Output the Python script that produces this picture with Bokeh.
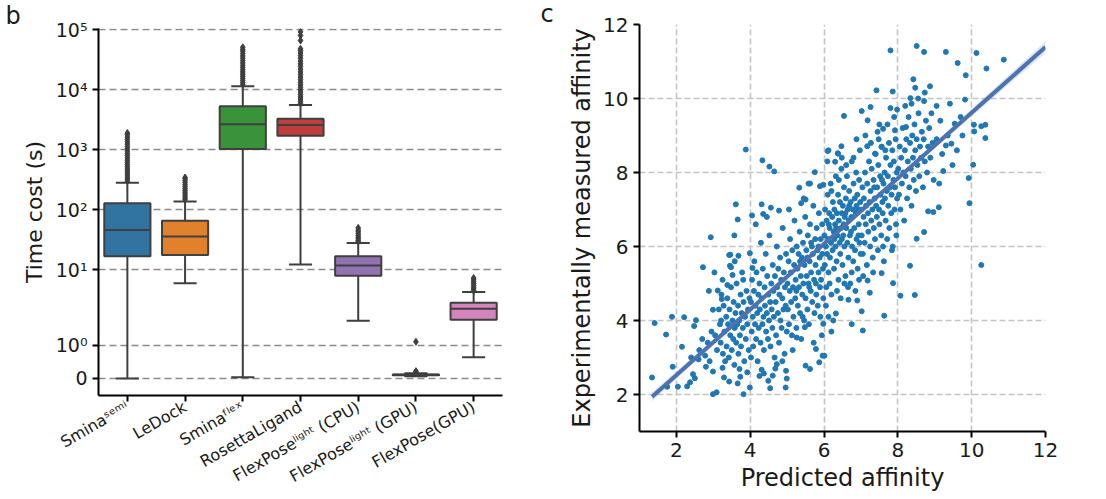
import numpy as np
from bokeh.plotting import figure
from bokeh.models import Range1d, FixedTicker, Title
from bokeh.embed import file_html
from bokeh.resources import INLINE
from bokeh.core.templates import get_env

FONT = "DejaVu Sans"
TXT = "#1a1a1a"
EDGE = "#3f3f3f"

# ---------------- panel b data (time cost, seconds) ----------------
methods = ["Sminaˢᵉᵐⁱ", "LeDock", "Sminaᶠˡᵉˣ", "RosettaLigand",
           "FlexPoseˡⁱᵍʰᵗ (CPU)", "FlexPoseˡⁱᵍʰᵗ (GPU)", "FlexPose(GPU)"]
box_colors = ["#3274a1", "#e1812c", "#3a923a", "#c03d3e", "#9372b2", "#845b53", "#d684bd"]
q1 = [16.9, 17.6, 1030, 1716, 7.96, 0.10, 1.76]
med = [45.9, 36.0, 2650, 2580, 11.8, 0.11, 2.24]
q3 = [128, 65.8, 5290, 3296, 16.9, 0.12, 2.83]
whis_lo = [0.0, 6.0, 0.04, 12.3, 1.73, 0.07, 0.64]
whis_hi = [282, 138, 11400, 5560, 27.9, 0.16, 4.26]

out_smina_semi = [300, 325, 350, 380, 410, 445, 480, 520, 565, 615, 670, 730, 800,
                  870, 950, 1040, 1130, 1240, 1350, 1480, 1620, 1780, 1900]
out_ledock = [148, 158, 170, 183, 197, 212, 228, 246, 265, 285, 308, 330, 345]
out_smina_flex = [12200, 13200, 14300, 15500, 16800, 18200, 19800, 21500, 23500, 25500,
                  28000, 30500, 33500, 36500, 40000, 44000, 47000, 51000]
out_rosetta = [5900, 6400, 7000, 7600, 8300, 9100, 10000, 11000, 12100, 13300, 14700,
               16200, 17900, 19800, 22000, 24500, 27000, 30000, 33500, 37000, 41000,
               45000, 48000, 66000, 80000, 92000]
out_flex_cpu = [29.5, 31, 33, 35, 37.5, 40, 43, 46, 50]
out_flex_gpu_light = [0.18, 0.20, 0.22, 1.1]
out_flex_gpu = [4.5, 4.8, 5.1, 5.5, 5.9, 6.3, 6.8, 7.3]
outliers = [out_smina_semi, out_ledock, out_smina_flex, out_rosetta,
            out_flex_cpu, out_flex_gpu_light, out_flex_gpu]

y_tick_values = [0, 1, 10, 100, 1000, 10000, 100000]
y_tick_labels = ["0", "10⁰", "10¹", "10²", "10³", "10⁴", "10⁵"]

# ---------------- panel c data (affinity scatter) ----------------
pred_a = [1.34, 1.41, 1.72, 1.88, 2.21, 1.90, 2.15, 1.75, 2.04, 2.29,
          2.37, 2.48, 2.53, 2.50, 2.72, 2.70, 2.99, 2.99, 2.99, 2.93,
          2.45, 2.60, 2.78, 2.85, 2.90, 2.62, 2.40, 2.88, 2.95, 2.80]
meas_a = [2.46, 3.93, 3.62, 4.10, 4.09, 2.75, 3.29, 2.21, 2.21, 2.22,
          2.33, 3.85, 4.01, 2.44, 5.44, 3.50, 4.29, 2.62, 2.01, 6.25,
          2.55, 2.95, 3.05, 3.40, 2.90, 3.20, 3.00, 4.80, 3.70, 2.75]

pred_b = [3.03, 3.09, 3.12, 3.23, 3.21, 3.25, 3.29, 3.43, 3.45, 3.52,
          3.46, 3.68, 3.82, 3.99, 3.71, 3.73, 3.61, 3.66, 3.57, 3.88,
          3.43, 3.48, 3.38, 3.81, 3.99,
          3.05, 3.10, 3.15, 3.18, 3.20, 3.22, 3.26, 3.28, 3.30, 3.32,
          3.35, 3.36, 3.38, 3.40, 3.42, 3.44, 3.46, 3.48, 3.50, 3.52,
          3.54, 3.55, 3.57, 3.58, 3.60, 3.62, 3.63, 3.65, 3.67, 3.68,
          3.70, 3.72, 3.74, 3.75, 3.77, 3.78, 3.80, 3.82, 3.84, 3.86,
          3.88, 3.90, 3.92, 3.94, 3.96, 3.98, 3.58, 3.25, 3.66, 3.92]
meas_b = [5.30, 2.06, 4.81, 4.58, 4.00, 2.72, 2.46, 2.35, 5.48, 5.23,
          5.78, 5.75, 2.01, 2.19, 2.69, 2.48, 7.14, 6.73, 6.30, 8.62,
          5.77, 5.44, 4.96, 5.10, 5.82,
          3.6, 3.2, 4.3, 3.9, 3.4, 4.7, 3.1, 4.4, 3.7, 2.9,
          4.1, 3.3, 4.6, 3.9, 3.0, 4.3, 3.6, 4.9, 3.2, 4.0,
          3.5, 4.5, 2.8, 3.8, 4.2, 3.4, 5.0, 3.9, 4.4, 3.1,
          4.0, 3.6, 4.7, 3.3, 4.2, 5.3, 3.8, 4.5, 2.9, 4.1,
          3.5, 4.8, 3.9, 4.3, 3.2, 4.6, 5.6, 5.1, 2.3, 2.6]

pred_c = [4.05, 4.06, 4.02, 4.31, 4.37, 4.49, 4.54, 4.61, 4.72, 4.96,
          4.97, 4.99, 4.33, 4.52, 4.65, 4.31, 4.78, 4.35, 4.56,
          4.02, 4.04, 4.05, 4.07, 4.08, 4.10, 4.11, 4.13, 4.14, 4.16,
          4.17, 4.19, 4.20, 4.22, 4.23, 4.25, 4.26, 4.28, 4.29, 4.31,
          4.33, 4.34, 4.36, 4.37, 4.39, 4.40, 4.42, 4.43, 4.45, 4.46,
          4.48, 4.49, 4.51, 4.52, 4.54, 4.55, 4.57, 4.58, 4.60, 4.61,
          4.63, 4.64, 4.66, 4.67, 4.69, 4.70, 4.72, 4.73, 4.75, 4.76,
          4.78, 4.79, 4.81, 4.82, 4.84, 4.85, 4.87, 4.88, 4.90, 4.91,
          4.93, 4.94, 4.96, 4.97, 4.99, 4.15, 4.45, 4.68, 4.87, 4.25]
meas_c = [6.84, 5.42, 3.00, 2.67, 2.57, 2.37, 2.17, 2.51, 2.82, 2.19,
          2.64, 2.43, 8.33, 8.16, 8.03, 7.14, 6.97, 6.88, 7.05,
          4.5, 3.7, 5.1, 4.1, 3.3, 4.8, 5.6, 3.9, 4.4, 3.5,
          5.3, 4.2, 2.9, 4.7, 3.8, 5.0, 4.3, 3.4, 6.1, 4.6,
          3.9, 5.4, 4.1, 3.2, 4.9, 4.4, 5.8, 3.7, 4.2, 5.2,
          3.5, 4.7, 4.0, 6.3, 4.5, 3.3, 5.0, 4.3, 3.8, 5.5,
          4.8, 4.1, 3.0, 5.2, 4.5, 3.6, 6.0, 4.9, 4.2, 5.4,
          3.4, 4.7, 5.7, 4.0, 5.1, 3.8, 4.6, 6.5, 4.3, 5.3,
          3.1, 4.9, 4.4, 5.8, 3.7, 6.6, 6.8, 2.7, 2.9, 2.5]

pred_d = [5.33, 5.50, 5.62, 5.98, 5.75, 5.26, 5.48, 5.50, 5.62, 5.78,
          5.87, 5.58, 5.38, 5.89, 5.96, 5.98,
          5.01, 5.02, 5.04, 5.05, 5.07, 5.08, 5.10, 5.11, 5.13, 5.14,
          5.16, 5.17, 5.19, 5.20, 5.22, 5.23, 5.25, 5.26, 5.28, 5.29,
          5.31, 5.32, 5.34, 5.35, 5.37, 5.38, 5.40, 5.41, 5.43, 5.44,
          5.46, 5.47, 5.49, 5.50, 5.52, 5.53, 5.55, 5.56, 5.58, 5.59,
          5.61, 5.62, 5.64, 5.65, 5.67, 5.68, 5.70, 5.71, 5.73, 5.74,
          5.76, 5.77, 5.79, 5.80, 5.82, 5.83, 5.85, 5.86, 5.88, 5.89,
          5.91, 5.92, 5.94, 5.95, 5.97, 5.98, 5.05, 5.45, 5.15, 5.72,
          5.35, 5.55, 5.65, 5.85, 5.95, 5.25, 5.42, 5.60, 5.78, 5.90]
meas_d = [7.59, 7.27, 7.70, 7.67, 8.01, 3.54, 3.82, 2.78, 2.69, 3.23,
          2.87, 7.70, 7.17, 7.63, 3.05, 3.91,
          5.0, 4.3, 5.6, 3.9, 4.8, 6.2, 5.3, 4.5, 3.6, 5.9,
          4.9, 4.1, 5.5, 6.7, 4.6, 5.1, 3.8, 6.0, 5.4, 4.4,
          5.8, 4.9, 6.4, 4.2, 5.2, 3.5, 5.7, 4.7, 6.1, 5.0,
          4.0, 5.5, 6.8, 4.6, 5.9, 5.2, 4.3, 6.3, 5.0, 3.9,
          5.6, 6.6, 4.8, 5.3, 6.0, 4.5, 5.8, 7.1, 5.1, 4.2,
          6.2, 5.5, 4.7, 6.5, 5.9, 4.4, 5.3, 6.9, 5.7, 4.9,
          6.2, 5.1, 3.6, 6.6, 5.4, 4.6, 7.0, 7.3, 3.2, 3.4,
          5.6, 5.7, 6.1, 6.0, 5.8, 4.8, 4.1, 4.9, 5.0, 4.1]

pred_e = [6.12, 6.37, 6.10, 6.47, 6.38, 6.30, 6.88, 6.54, 6.66, 6.32,
          6.12, 6.01, 6.90, 6.48, 6.09, 6.20, 6.75,
          6.01, 6.02, 6.03, 6.05, 6.06, 6.07, 6.08, 6.10, 6.11, 6.12,
          6.14, 6.15, 6.16, 6.18, 6.19, 6.20, 6.22, 6.23, 6.24, 6.26,
          6.27, 6.28, 6.30, 6.31, 6.32, 6.34, 6.35, 6.36, 6.38, 6.39,
          6.40, 6.42, 6.43, 6.44, 6.46, 6.47, 6.48, 6.50, 6.51, 6.52,
          6.54, 6.55, 6.56, 6.58, 6.59, 6.60, 6.62, 6.63, 6.64, 6.66,
          6.67, 6.68, 6.70, 6.71, 6.72, 6.74, 6.75, 6.76, 6.78, 6.79,
          6.80, 6.82, 6.83, 6.84, 6.86, 6.87, 6.88, 6.90, 6.91, 6.92,
          6.94, 6.95, 6.96, 6.98, 6.99, 6.05, 6.25, 6.45, 6.65, 6.85,
          6.15, 6.35, 6.55, 6.75, 6.95, 6.20, 6.40, 6.60, 6.80, 6.97,
          6.13, 6.33, 6.53, 6.73, 6.93, 6.28, 6.48, 6.68, 6.88, 6.58]
meas_e = [8.60, 8.52, 8.58, 8.71, 8.51, 8.29, 8.90, 9.53, 4.56, 4.19,
          4.10, 3.05, 4.54, 8.40, 8.30, 3.70, 3.90,
          6.3, 5.5, 7.0, 6.0, 4.9, 6.7, 5.8, 7.4, 6.2, 5.3,
          6.9, 6.5, 5.7, 7.7, 6.1, 4.7, 6.8, 5.9, 7.2, 6.4,
          5.4, 7.0, 6.6, 6.0, 7.9, 5.6, 6.9, 6.3, 7.4, 5.1,
          6.7, 6.1, 7.2, 5.8, 6.5, 8.1, 6.9, 5.5, 7.1, 6.3,
          7.6, 6.0, 6.8, 5.2, 7.3, 6.5, 7.9, 6.1, 7.0, 5.7,
          6.7, 7.5, 6.3, 5.0, 7.2, 6.8, 8.3, 6.0, 7.0, 5.6,
          7.7, 6.5, 7.3, 5.9, 6.9, 8.0, 6.2, 7.4, 5.4, 7.0,
          6.6, 7.8, 6.1, 7.2, 5.8, 4.4, 4.0, 4.6, 4.9, 4.8,
          5.0, 4.8, 5.0, 5.3, 5.1, 7.5, 7.8, 8.2, 8.4, 8.6,
          6.6, 6.5, 6.6, 6.4, 6.3, 6.2, 6.2, 7.1, 7.1, 6.9]

pred_f = [7.24, 7.18, 7.05, 7.02, 7.56, 7.87, 7.63, 7.17, 7.38, 7.56,
          7.92, 7.80, 7.42, 7.86, 7.80, 7.98, 7.26, 7.02, 7.18, 7.50,
          7.60,
          7.01, 7.02, 7.04, 7.05, 7.07, 7.08, 7.10, 7.11, 7.13, 7.14,
          7.16, 7.17, 7.19, 7.20, 7.22, 7.23, 7.25, 7.26, 7.28, 7.29,
          7.31, 7.32, 7.34, 7.35, 7.37, 7.38, 7.40, 7.41, 7.43, 7.44,
          7.46, 7.47, 7.49, 7.50, 7.52, 7.53, 7.55, 7.56, 7.58, 7.59,
          7.61, 7.62, 7.64, 7.65, 7.67, 7.68, 7.70, 7.71, 7.73, 7.74,
          7.76, 7.77, 7.79, 7.80, 7.82, 7.83, 7.85, 7.86, 7.88, 7.89,
          7.91, 7.92, 7.94, 7.95, 7.97, 7.98, 7.12, 7.45, 7.72, 7.90,
          7.06, 7.33, 7.60, 7.84, 7.96, 7.27, 7.48, 7.66, 7.36, 7.57]
meas_f = [4.75, 5.08, 3.73, 4.25, 5.28, 5.01, 4.13, 8.71, 8.51, 8.69,
          9.14, 11.30, 10.22, 10.19, 9.74, 9.70, 9.77, 9.66, 9.41, 9.30,
          9.18,
          7.0, 6.3, 7.6, 5.8, 6.8, 7.3, 6.1, 8.0, 6.6, 7.1,
          5.5, 7.7, 6.9, 6.4, 8.3, 7.2, 6.0, 7.5, 6.7, 8.1,
          7.0, 5.7, 7.8, 6.5, 7.3, 6.2, 8.5, 7.1, 6.8, 7.6,
          5.9, 8.2, 7.0, 6.6, 7.9, 7.4, 6.3, 8.7, 7.2, 6.9,
          7.7, 5.6, 8.0, 7.3, 6.7, 8.4, 7.5, 6.2, 7.9, 7.1,
          8.8, 6.5, 7.6, 8.2, 6.9, 7.4, 8.6, 6.0, 7.8, 8.3,
          7.0, 7.6, 8.9, 6.6, 8.0, 7.3, 9.0, 9.1, 9.3, 9.5,
          5.2, 5.3, 6.0, 5.9, 6.3, 8.8, 8.9, 8.6, 7.6, 7.8]

pred_g = [8.51, 8.71, 8.42, 8.47, 8.87, 8.73, 8.34, 8.37, 8.71, 8.33,
          8.46, 8.07, 8.22, 8.51, 8.71, 8.96, 8.82,
          8.01, 8.03, 8.05, 8.07, 8.09, 8.11, 8.13, 8.15, 8.17, 8.19,
          8.21, 8.23, 8.25, 8.27, 8.29, 8.31, 8.33, 8.35, 8.37, 8.39,
          8.41, 8.43, 8.45, 8.47, 8.49, 8.51, 8.53, 8.56, 8.58, 8.60,
          8.63, 8.65, 8.68, 8.70, 8.73, 8.76, 8.79, 8.82, 8.85, 8.88,
          8.91, 8.94, 8.97, 8.55, 8.20]
meas_g = [11.42, 11.26, 10.52, 10.29, 10.33, 10.16, 10.01, 9.86, 9.93, 5.48,
          4.69, 4.67, 9.23, 6.21, 6.39, 6.93, 6.95,
          8.1, 7.4, 8.7, 7.0, 8.4, 7.7, 9.2, 8.0, 6.7, 8.6,
          7.9, 8.9, 7.3, 8.3, 9.5, 7.6, 8.8, 8.1, 7.1, 9.0,
          8.4, 7.8, 9.3, 8.6, 7.5, 8.9, 8.2, 9.6, 7.9, 8.7,
          8.4, 9.1, 7.6, 8.9, 8.3, 9.4, 8.0, 8.7, 9.2, 8.4,
          9.6, 8.8, 7.8, 10.0, 9.8]

pred_h = [9.30, 10.13, 10.87, 9.62, 10.40, 9.84, 9.82, 9.41, 10.06, 10.26,
          10.37, 10.37, 10.07, 10.04, 9.92, 9.94, 9.23, 9.11, 9.45, 9.30,
          9.54, 10.26, 9.05, 9.15, 9.20, 9.35, 9.60, 9.70, 9.05, 9.12,
          9.48, 9.75]
meas_h = [11.26, 11.23, 11.05, 10.96, 10.81, 10.63, 9.97, 9.86, 9.29, 9.25,
          9.29, 8.93, 9.11, 8.21, 7.85, 7.17, 8.04, 7.06, 8.78, 8.73,
          9.32, 5.50, 8.9, 9.4, 8.5, 9.0, 8.6, 9.5, 9.8, 7.7,
          8.2, 9.0]

# regression fit line and its confidence band
reg_x = [1.34, 12.0]
reg_y = [1.94, 11.39]
band_x = [1.34, 4.0, 6.5, 9.0, 12.0]
band_lo = [1.82, 4.24, 6.475, 8.66, 11.23]
band_hi = [2.06, 4.36, 6.555, 8.80, 11.55]
affinity_ticks = [2, 4, 6, 8, 10, 12]

# ---------------- helpers ----------------
LINTHRESH = 2.0
LINSCALE_ADJ = 1.0 / (1.0 - 1.0 / 10.0)


def symlog(v):
    v = np.asarray(v, dtype=float)
    a = np.abs(v)
    logpart = np.sign(v) * LINTHRESH * (LINSCALE_ADJ + np.log10(np.maximum(a, 1e-12) / LINTHRESH))
    return np.where(a <= LINTHRESH, v * LINSCALE_ADJ, logpart)


def style_axes(p, tick_size):
    for ax in (p.xaxis[0], p.yaxis[0]):
        ax.axis_line_color = "black"
        ax.axis_line_width = 2
        ax.major_tick_line_color = "black"
        ax.major_tick_line_width = 2
        ax.major_tick_out = 6
        ax.major_tick_in = 0
        ax.minor_tick_line_color = None
        ax.major_label_text_font = FONT
        ax.major_label_text_font_size = tick_size
        ax.major_label_text_color = TXT
        ax.axis_label_text_font = FONT
        ax.axis_label_text_font_style = "normal"
        ax.axis_label_text_color = TXT
    p.outline_line_color = None
    p.background_fill_color = "white"
    p.border_fill_color = "white"


def panel_letter(p, letter, offset, standoff):
    t = Title(text=letter, align="left", offset=offset, standoff=standoff,
              text_font=FONT, text_font_size="24px", text_font_style="normal",
              text_color=TXT, vertical_align="bottom")
    p.add_layout(t, "above")


# ---------------- panel b ----------------
p1 = figure(width=530, height=499, output_backend="svg", toolbar_location=None,
            x_range=Range1d(-0.5, 6.5), y_range=Range1d(-0.567, 11.66),
            min_border_left=98, min_border_right=28, min_border_top=28, min_border_bottom=104)
style_axes(p1, "19px")
p1.xgrid.grid_line_color = None
p1.ygrid.grid_line_color = "#8a8a8a"
p1.ygrid.grid_line_width = 1.5
p1.ygrid.grid_line_dash = "7 4"

ytick_pos = [round(float(t), 6) for t in symlog(y_tick_values)]
p1.yaxis.ticker = FixedTicker(ticks=ytick_pos)
p1.yaxis.major_label_overrides = {t: lab for t, lab in zip(ytick_pos, y_tick_labels)}
p1.yaxis.axis_label = "Time cost (s)"
p1.yaxis.axis_label_text_font_size = "22px"
p1.yaxis.axis_label_standoff = 6
p1.yaxis.major_label_standoff = 5

xpos = list(range(len(methods)))
p1.xaxis.ticker = FixedTicker(ticks=xpos)
p1.xaxis.major_label_overrides = {i: name for i, name in zip(xpos, methods)}
p1.xaxis.major_label_orientation = np.pi / 6
p1.xaxis.major_label_text_font_size = "16px"
p1.xaxis.major_label_standoff = 4

xs = np.array(xpos, dtype=float)
p1.segment(x0=xs, y0=symlog(whis_lo), x1=xs, y1=symlog(whis_hi), line_color=EDGE, line_width=2)
p1.segment(x0=xs - 0.2, y0=symlog(whis_lo), x1=xs + 0.2, y1=symlog(whis_lo), line_color=EDGE, line_width=2)
p1.segment(x0=xs - 0.2, y0=symlog(whis_hi), x1=xs + 0.2, y1=symlog(whis_hi), line_color=EDGE, line_width=2)
p1.vbar(x=xs, width=0.8, bottom=symlog(q1), top=symlog(q3), fill_color=box_colors,
        line_color=EDGE, line_width=2)
p1.segment(x0=xs - 0.4, y0=symlog(med), x1=xs + 0.4, y1=symlog(med), line_color=EDGE, line_width=2)

ox, oy = [], []
for i, vals in enumerate(outliers):
    ox.extend([i] * len(vals))
    oy.extend(vals)
p1.scatter(x=ox, y=symlog(oy), marker="diamond", size=7, fill_color=EDGE, line_color=EDGE)

panel_letter(p1, "b", -93, -3)

# ---------------- panel c ----------------
pred = pred_a + pred_b + pred_c + pred_d + pred_e + pred_f + pred_g + pred_h
meas = meas_a + meas_b + meas_c + meas_d + meas_e + meas_f + meas_g + meas_h
assert len(pred) == len(meas)

p2 = figure(width=576, height=499, output_backend="svg", toolbar_location=None,
            x_range=Range1d(1, 12), y_range=Range1d(1, 12),
            min_border_left=109, min_border_right=61, min_border_top=24, min_border_bottom=68)
style_axes(p2, "20px")
p2.grid.grid_line_color = "#c4c4c4"
p2.grid.grid_line_width = 1.6
p2.grid.grid_line_dash = "6 3"
p2.xaxis.ticker = FixedTicker(ticks=affinity_ticks)
p2.yaxis.ticker = FixedTicker(ticks=affinity_ticks)
p2.xaxis.axis_label = "Predicted affinity"
p2.yaxis.axis_label = "Experimentally measured affinity"
p2.xaxis.axis_label_text_font_size = "24px"
p2.yaxis.axis_label_text_font_size = "24px"
p2.xaxis.axis_label_standoff = 4
p2.yaxis.axis_label_standoff = 4

p2.scatter(x=pred, y=meas, size=5, fill_color="#1f77b4", line_color="#1f77b4")
p2.varea(x=band_x, y1=band_lo, y2=band_hi, fill_color="#4c72b0", fill_alpha=0.18)
p2.line(x=reg_x, y=reg_y, line_color="#4c72b0", line_width=4)

panel_letter(p2, "c", -99, -7)

# side-by-side page without cross-figure frame alignment
PAGE = get_env().from_string("""{% from macros import embed %}
<!DOCTYPE html>
<html lang="en">
  <head>
    <meta charset="utf-8">
    <title>{{ title }}</title>
    {{ bokeh_css }}
    {{ bokeh_js }}
    <style>
      html, body { margin: 0; padding: 0; overflow: hidden; }
      .panels { display: flex; flex-direction: row; align-items: flex-start; }
    </style>
  </head>
  <body>
    <div class="panels">
      {{ embed(roots[0]) }}
      {{ embed(roots[1]) }}
    </div>
    {{ plot_script }}
  </body>
</html>
""")

open("out.html", "w").write(file_html([p1, p2], INLINE, title="Figure", template=PAGE))
